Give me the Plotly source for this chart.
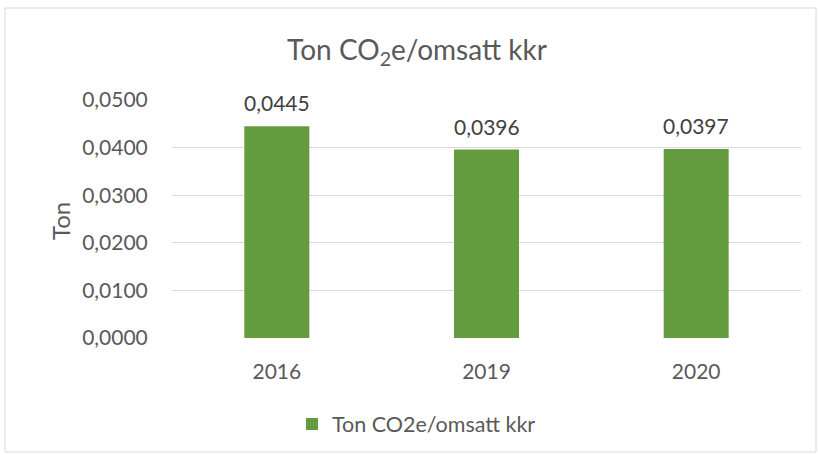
import plotly.graph_objects as go

categories = ["2016", "2019", "2020"]
values = [0.0445, 0.0396, 0.0397]
series_name = "Ton CO2e/omsatt kkr"
title_text = "Ton CO<sub>2</sub>e/omsatt kkr"
y_title = "Ton"
y_ticks = [0.0, 0.01, 0.02, 0.03, 0.04, 0.05]

FONT = "Lato, Open Sans, sans-serif"
TXT = "#595959"
GREEN = "#649B3F"
GRID = "#D9D9D9"

W, H = 818, 455
L, R, T, B = 172, 17, 100, 117
pw, ph = W - L - R, H - T - B

def px_x(x):
    return (x - L) / pw

def px_y(y):
    return (H - B - y) / ph

fig = go.Figure()
fig.add_trace(go.Bar(
    x=categories, y=values, name=series_name,
    marker=dict(color=GREEN, line=dict(width=0)),
    width=0.31,
))

for i, v in enumerate(values):
    fig.add_annotation(
        x=i, y=v, xref="x", yref="y",
        text=f"{v:.4f}".replace(".", ","),
        showarrow=False, yanchor="bottom", yshift=9,
        font=dict(family=FONT, size=21, color="#404040"),
    )

fig.add_annotation(
    x=px_x(60), y=px_y(221), xref="paper", yref="paper",
    text=y_title, textangle=-90, showarrow=False,
    xanchor="center", yanchor="middle",
    font=dict(family=FONT, size=24, color=TXT),
)

fig.add_shape(
    type="rect", xref="paper", yref="paper",
    x0=px_x(5), x1=px_x(816), y0=px_y(452), y1=px_y(8),
    line=dict(color=GRID, width=1), fillcolor="rgba(0,0,0,0)", layer="below",
)

fig.update_layout(
    width=W, height=H,
    margin=dict(l=L, r=R, t=T, b=B, autoexpand=False),
    paper_bgcolor="white", plot_bgcolor="white",
    separators=", ",
    title=dict(text=title_text, x=417 / W, y=1 - 50 / H, xref="container", yref="container",
               xanchor="center", yanchor="middle",
               font=dict(family=FONT, size=28, color=TXT)),
    xaxis=dict(
        type="category", range=[-0.5, 2.5],
        showgrid=False, showline=False, zeroline=False,
        ticks="outside", ticklen=15, tickcolor="rgba(0,0,0,0)",
        tickfont=dict(family=FONT, size=21, color=TXT),
    ),
    yaxis=dict(
        range=[0, 0.05], tickvals=y_ticks, tickformat=".4f",
        showgrid=True, gridcolor=GRID, gridwidth=1.3,
        zeroline=False, showline=False,
        ticks="outside", ticklen=19, tickcolor="rgba(0,0,0,0)",
        tickfont=dict(family=FONT, size=21, color=TXT),
    ),
    showlegend=True,
    legend=dict(
        orientation="h", x=px_x(292), y=px_y(424), xanchor="left", yanchor="middle",
        font=dict(family=FONT, size=21.5, color=TXT),
        itemwidth=30,
    ),
)

fig.write_html("out.html", config={"displayModeBar": False},
               post_script="document.body.style.margin='0';document.body.style.overflow='hidden';")
